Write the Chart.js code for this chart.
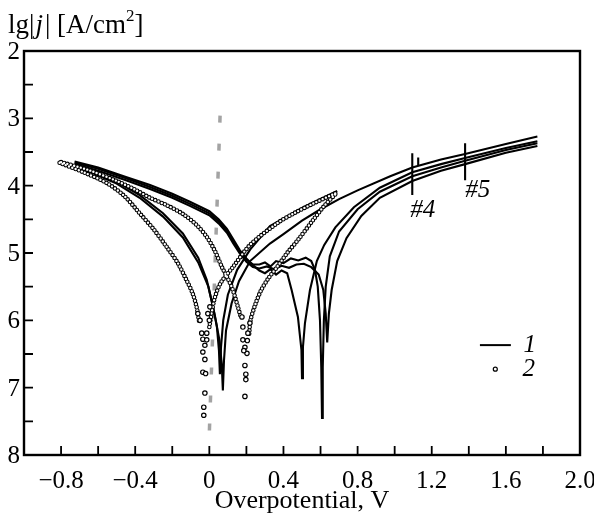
<!DOCTYPE html>
<html>
<head>
<meta charset="utf-8">
<title>Overpotential</title>
<script src="https://cdn.jsdelivr.net/npm/chart.js@4.4.1/dist/chart.umd.min.js"></script>
<style>
  html, body { margin: 0; padding: 0; background: #fff; }
  canvas { display: block; }
</style>
</head>
<body>
<canvas id="myChart" width="594" height="518"></canvas>
<script>
// axis ticks
var xTickValues = [-0.8, -0.4, 0, 0.4, 0.8, 1.2, 1.6, 2.0];
var xTickLabels = ['\u22120.8', '\u22120.4', '0', '0.4', '0.8', '1.2', '1.6', '2.0'];
var yTickValues = [2, 3, 4, 5, 6, 7, 8];
var yTickLabels = ['2', '3', '4', '5', '6', '7', '8'];

// series 1 (lines)
var lineA_x = [-0.80, -0.65, -0.50, -0.376, -0.25, -0.143, -0.06, -0.014, 0.02, 0.041, 0.052, 0.057, 0.063, 0.075, 0.10, 0.15, 0.22, 0.327, 0.38, 0.50, 0.69];
var lineA_y = [3.64, 3.77, 3.94, 4.14, 4.41, 4.71, 5.07, 5.40, 5.80, 6.10, 6.45, 6.80, 6.40, 6.00, 5.62, 5.25, 4.95, 4.60, 4.52, 4.33, 4.08];

var lineB_x = [-0.80, -0.65, -0.50, -0.376, -0.25, -0.143, -0.06, -0.005, 0.03, 0.055, 0.067, 0.073, 0.079, 0.09, 0.12, 0.16, 0.22, 0.327, 0.40, 0.50, 0.60, 0.70, 0.80, 0.976, 1.095, 1.25, 1.38, 1.60, 1.77];
var lineB_y = [3.66, 3.79, 3.97, 4.18, 4.46, 4.77, 5.14, 5.50, 5.93, 6.30, 6.65, 7.04, 6.60, 6.15, 5.75, 5.42, 5.12, 4.86, 4.72, 4.52, 4.35, 4.20, 4.07, 3.86, 3.73, 3.61, 3.53, 3.38, 3.27];

var lineC_x = [-0.727, -0.60, -0.45, -0.32, -0.20, -0.105, 0.0, 0.05, 0.095, 0.13, 0.165, 0.20, 0.235, 0.27, 0.30, 0.33, 0.36, 0.39, 0.42, 0.444, 0.478, 0.497, 0.500, 0.505, 0.516, 0.543, 0.58, 0.62, 0.68, 0.78, 0.92, 1.095, 1.25, 1.38, 1.60, 1.77];
var lineC_y = [3.64, 3.73, 3.87, 3.99, 4.12, 4.24, 4.38, 4.50, 4.64, 4.80, 4.96, 5.08, 5.18, 5.26, 5.30, 5.24, 5.32, 5.26, 5.30, 5.55, 5.95, 6.44, 6.86, 6.40, 6.04, 5.55, 5.12, 4.88, 4.62, 4.32, 4.03, 3.80, 3.68, 3.59, 3.44, 3.34];

var lineD_x = [-0.727, -0.60, -0.45, -0.32, -0.20, -0.105, 0.0, 0.05, 0.095, 0.13, 0.165, 0.20, 0.235, 0.27, 0.30, 0.33, 0.36, 0.40, 0.44, 0.48, 0.52, 0.55, 0.57, 0.585, 0.597, 0.604, 0.608, 0.612, 0.618, 0.628, 0.65, 0.70, 0.80, 0.92, 1.095, 1.25, 1.38, 1.60, 1.77];
var lineD_y = [3.66, 3.75, 3.89, 4.02, 4.15, 4.27, 4.41, 4.53, 4.67, 4.83, 4.98, 5.10, 5.17, 5.17, 5.14, 5.20, 5.12, 5.15, 5.08, 5.11, 5.07, 5.12, 5.25, 5.50, 6.00, 6.70, 7.45, 6.70, 6.00, 5.50, 5.05, 4.68, 4.35, 4.09, 3.86, 3.73, 3.63, 3.47, 3.37];

var lineE_x = [-0.727, -0.60, -0.45, -0.32, -0.20, -0.105, 0.0, 0.05, 0.095, 0.13, 0.165, 0.20, 0.235, 0.27, 0.31, 0.35, 0.39, 0.43, 0.47, 0.51, 0.55, 0.59, 0.615, 0.628, 0.636, 0.645, 0.66, 0.69, 0.74, 0.82, 0.92, 1.095, 1.25, 1.38, 1.60, 1.77];
var lineE_y = [3.68, 3.78, 3.92, 4.05, 4.18, 4.30, 4.44, 4.56, 4.70, 4.86, 5.01, 5.13, 5.21, 5.23, 5.20, 5.24, 5.19, 5.22, 5.17, 5.16, 5.21, 5.32, 5.55, 5.90, 6.33, 5.90, 5.55, 5.12, 4.78, 4.45, 4.18, 3.93, 3.78, 3.68, 3.51, 3.41];

// series 2 (circles)
var circOuter_x = [-0.808, -0.68, -0.554, -0.46, -0.376, -0.30, -0.23, -0.17, -0.122, -0.09, -0.068, -0.055];
var circOuter_y = [3.66, 3.80, 3.96, 4.15, 4.41, 4.65, 4.91, 5.15, 5.41, 5.60, 5.81, 6.02];

var circInner_x = [-0.80, -0.65, -0.50, -0.40, -0.32, -0.23, -0.143, -0.07, -0.014, 0.03, 0.068, 0.10, 0.127, 0.154, 0.17];
var circInner_y = [3.65, 3.77, 3.93, 4.06, 4.18, 4.29, 4.42, 4.58, 4.76, 4.97, 5.21, 5.38, 5.55, 5.80, 5.95];

var circRise1_x = [0.0, 0.015, 0.03, 0.06, 0.127, 0.22, 0.365, 0.45, 0.55, 0.69];
var circRise1_y = [6.10, 5.85, 5.66, 5.45, 5.21, 4.88, 4.56, 4.42, 4.28, 4.10];

var circRise2_x = [0.215, 0.222, 0.25, 0.28, 0.32, 0.365, 0.42, 0.48, 0.56, 0.62, 0.69];
var circRise2_y = [6.20, 6.00, 5.75, 5.55, 5.37, 5.21, 5.00, 4.80, 4.51, 4.30, 4.10];

var circScatter_x = [-0.062, -0.050, -0.041, -0.035, -0.024, -0.035, -0.024, -0.035, -0.020, -0.024, -0.030, -0.030, -0.008, 0.000, -0.014, -0.014, 0.003,
                     0.176, 0.181, 0.181, 0.192, 0.203, 0.186, 0.192, 0.197, 0.197, 0.192, 0.208, 0.219, 0.205];
var circScatter_y = [5.90, 6.00, 6.19, 6.28, 6.37, 6.47, 6.58, 6.77, 6.79, 7.08, 7.29, 7.41, 5.90, 6.00, 6.19, 6.29, 5.80,
                     5.95, 6.10, 6.29, 6.40, 6.49, 6.45, 6.67, 6.80, 6.88, 7.13, 6.19, 6.04, 6.30];

// grey dashed marker and the #4 / #5 marks
var greyLine_x = [0.058, -0.001];
var greyLine_y = [2.96, 7.75];
var mark4_x = [1.095, 1.095];
var mark4_y = [3.52, 4.14];
var mark4b_x = [1.127, 1.127];
var mark4b_y = [3.58, 3.70];
var mark5_x = [1.38, 1.38];
var mark5_y = [3.37, 3.92];

function pts(xs, ys) {
  return xs.map(function(x, i) { return {x: x, y: ys[i]}; });
}

function lineSet(xs, ys) {
  return {data: pts(xs, ys), borderColor: '#000', borderWidth: 2.1, pointRadius: 0, tension: 0, fill: false, order: 3};
}

function dotSet(xs, ys, color, w, order) {
  return {data: pts(xs, ys), borderColor: color, borderWidth: w, borderDash: [0, 3.4], borderCapStyle: 'round',
          pointRadius: 0, tension: 0.3, fill: false, order: order};
}

var datasets = [
  {data: pts(greyLine_x, greyLine_y), borderColor: '#a3a3a3', borderWidth: 3.5, borderDash: [7, 21], pointRadius: 0, fill: false, order: 6},
  lineSet(lineA_x, lineA_y),
  lineSet(lineB_x, lineB_y),
  lineSet(lineC_x, lineC_y),
  lineSet(lineD_x, lineD_y),
  lineSet(lineE_x, lineE_y),
  lineSet(mark4_x, mark4_y),
  lineSet(mark4b_x, mark4b_y),
  lineSet(mark5_x, mark5_y)
];
[[circOuter_x, circOuter_y], [circInner_x, circInner_y], [circRise1_x, circRise1_y], [circRise2_x, circRise2_y]].forEach(function(c) {
  datasets.push(dotSet(c[0], c[1], '#000', 4.6, 2));
  datasets.push(dotSet(c[0], c[1], '#fff', 2.4, 1));
});
datasets.push({data: pts(circScatter_x, circScatter_y), showLine: false, pointRadius: 2.2, pointBorderWidth: 1.2,
               pointBorderColor: '#000', pointBackgroundColor: '#fff', order: 0});

var serif = '"Liberation Serif", "Times New Roman", serif';

var frame = {
  id: 'frame',
  afterDraw: function(chart) {
    var ctx = chart.ctx, a = chart.chartArea;
    var xs = chart.scales.x, ys = chart.scales.y;
    ctx.save();
    ctx.strokeStyle = '#000';
    ctx.lineWidth = 2.4;
    ctx.strokeRect(a.left, a.top, a.right - a.left, a.bottom - a.top);
    ctx.lineWidth = 1.8;
    ctx.beginPath();
    xs.ticks.forEach(function(t) {
      var px = xs.getPixelForValue(t.value);
      ctx.moveTo(px, a.bottom); ctx.lineTo(px, a.bottom - 9);
    });
    ys.ticks.forEach(function(t) {
      var py = ys.getPixelForValue(t.value);
      ctx.moveTo(a.left, py); ctx.lineTo(a.left + 9, py);
    });
    ctx.stroke();

    ctx.fillStyle = '#000';
    ctx.font = '25px ' + serif;
    ctx.textAlign = 'center';
    ctx.textBaseline = 'alphabetic';
    xTickValues.forEach(function(v, i) {
      ctx.fillText(xTickLabels[i], xs.getPixelForValue(v), a.bottom + 33);
    });
    ctx.textAlign = 'right';
    yTickValues.forEach(function(v, i) {
      ctx.fillText(yTickLabels[i], a.left - 4, ys.getPixelForValue(v) + 8);
    });

    // axis titles
    ctx.font = '26px ' + serif;
    ctx.textAlign = 'center';
    ctx.fillText('Overpotential, V', (a.left + a.right) / 2, a.bottom + 53);
    ctx.textAlign = 'left';
    var x0 = 8, base = 33;
    var parts = [['lg|', '', 1], ['j', 'italic ', 2], ['| [A/cm', '', 0], ['2', 'sup', 0], [']', '', 0]];
    parts.forEach(function(p) {
      if (p[1] === 'sup') {
        ctx.font = '17px ' + serif;
        ctx.fillText(p[0], x0, base - 12);
      } else {
        ctx.font = p[1] + '27px ' + serif;
        ctx.fillText(p[0], x0, base);
      }
      x0 += ctx.measureText(p[0]).width + p[2];
    });

    // curve labels and legend
    ctx.font = 'italic 25px ' + serif;
    ctx.fillText('#4', xs.getPixelForValue(1.084), ys.getPixelForValue(4.467));
    ctx.fillText('#5', xs.getPixelForValue(1.381), ys.getPixelForValue(4.169));
    ctx.fillText('1', xs.getPixelForValue(1.695), ys.getPixelForValue(6.473));
    ctx.fillText('2', xs.getPixelForValue(1.690), ys.getPixelForValue(6.829));
    ctx.lineWidth = 2;
    ctx.beginPath();
    ctx.moveTo(xs.getPixelForValue(1.460), ys.getPixelForValue(6.368));
    ctx.lineTo(xs.getPixelForValue(1.627), ys.getPixelForValue(6.368));
    ctx.stroke();
    ctx.lineWidth = 1.2;
    ctx.beginPath();
    ctx.arc(xs.getPixelForValue(1.543), ys.getPixelForValue(6.725), 2, 0, Math.PI * 2);
    ctx.fillStyle = '#fff';
    ctx.fill();
    ctx.stroke();
    ctx.restore();
  }
};

new Chart(document.getElementById('myChart'), {
  type: 'line',
  data: {datasets: datasets},
  options: {
    responsive: false,
    animation: false,
    devicePixelRatio: 1,
    layout: {padding: {left: 24, right: 14, top: 51, bottom: 63}},
    plugins: {legend: {display: false}, tooltip: {enabled: false}},
    scales: {
      x: {
        type: 'linear', min: -1.0, max: 2.0,
        ticks: {display: false, stepSize: 0.2},
        grid: {display: false, drawTicks: false},
        border: {display: false},
        afterFit: function(s) { s.height = 0; }
      },
      y: {
        type: 'linear', reverse: true, min: 2, max: 8,
        ticks: {display: false, stepSize: 0.5},
        grid: {display: false, drawTicks: false},
        border: {display: false},
        afterFit: function(s) { s.width = 0; }
      }
    }
  },
  plugins: [frame]
});
</script>
</body>
</html>
